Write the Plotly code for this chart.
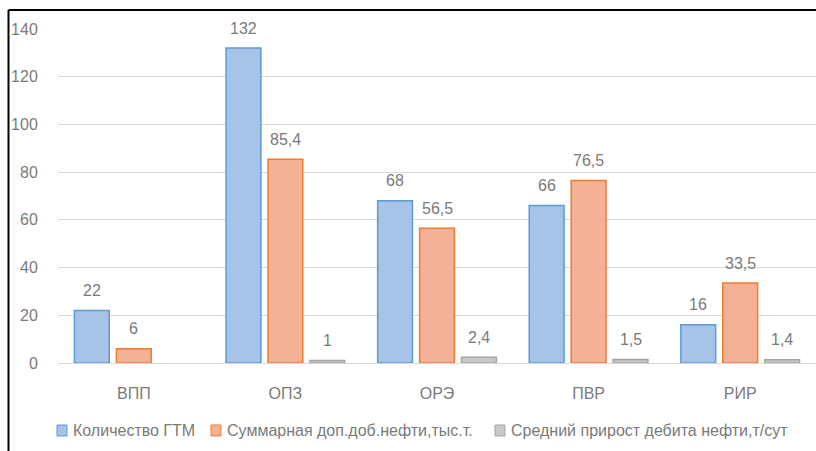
import plotly.graph_objects as go

categories = ["ВПП", "ОПЗ", "ОРЭ", "ПВР", "РИР"]
series_names = ["Количество ГТМ", "Суммарная доп.доб.нефти,тыс.т.", "Средний прирост дебита нефти,т/сут"]
gtm_count = [22, 132, 68, 66, 16]
oil_sum = [6, 85.4, 56.5, 76.5, 33.5]
rate_gain = [None, 1, 2.4, 1.5, 1.4]
gtm_labels = ["22", "132", "68", "66", "16"]
oil_labels = ["6", "85,4", "56,5", "76,5", "33,5"]
rate_labels = ["", "1", "2,4", "1,5", "1,4"]
y_ticks = [0, 20, 40, 60, 80, 100, 120, 140]

fills = ["#a7c3e7", "#f5b196", "#c9c9c9"]
lines = ["#5b9bd5", "#ed7d31", "#a5a5a5"]
txt = "#7a7a7a"
font_family = "Liberation Sans"

W, H = 816, 451
ML, MR, MT, MB = 58, 0, 29, 88
PW, PH = W - ML - MR, H - MT - MB


def px_x(px):
    return (px - ML) / PW


def px_y(py):
    return (H - MB - py) / PH


fig = go.Figure()
all_vals = [gtm_count, oil_sum, rate_gain]
all_labels = [gtm_labels, oil_labels, rate_labels]
for i, (name, vals) in enumerate(zip(series_names, all_vals)):
    fig.add_trace(go.Bar(
        x=categories, y=vals, name=name, showlegend=False,
        marker=dict(color=fills[i], line=dict(color=lines[i], width=1.5)),
    ))

offsets = [-42, 0, 42]
for i, (vals, labs) in enumerate(zip(all_vals, all_labels)):
    for c, v, t in zip(categories, vals, labs):
        if v is None or t == "":
            continue
        fig.add_annotation(x=c, y=v, text=t, showarrow=False, xshift=offsets[i],
                           yshift=20, yanchor="middle",
                           font=dict(family=font_family, size=16, color=txt))

# legend (drawn as swatches + text, matching the reference's compact spacing)
swatch_left = [57, 211, 495]
text_left = [71, 225, 509]
legend_y = 430.5
for i, name in enumerate(series_names):
    fig.add_shape(type="rect", xref="paper", yref="paper",
                  x0=px_x(swatch_left[i]), x1=px_x(swatch_left[i] + 10),
                  y0=px_y(legend_y + 5.5), y1=px_y(legend_y - 5.5),
                  fillcolor=fills[i], line=dict(color=lines[i], width=1))
    fig.add_annotation(xref="paper", yref="paper", x=px_x(text_left[i]), y=px_y(legend_y),
                       text=name, showarrow=False, xanchor="left", yanchor="middle",
                       font=dict(family=font_family, size=16, color=txt))

fig.update_layout(
    width=W, height=H,
    paper_bgcolor="white", plot_bgcolor="white",
    margin=dict(l=ML, r=MR, t=MT, b=MB),
    barmode="group", bargap=0.17, bargroupgap=0.17,
    font=dict(family=font_family, size=16, color=txt),
    showlegend=False,
)
fig.update_yaxes(range=[0, 140], tickvals=y_ticks, showgrid=True, gridcolor="#d9d9d9",
                 gridwidth=1, zeroline=True, zerolinecolor="#d9d9d9", zerolinewidth=1,
                 ticks="outside", ticklen=16, tickcolor="rgba(0,0,0,0)",
                 tickfont=dict(size=16, color=txt))
fig.update_xaxes(showgrid=False, showline=False, ticks="outside", ticklen=16,
                 tickcolor="rgba(0,0,0,0)", tickfont=dict(size=16, color=txt))

# frame lines (top and left) as in the reference image
fig.add_shape(type="line", xref="paper", yref="paper", x0=px_x(8.5), x1=px_x(W + 2),
              y0=px_y(10), y1=px_y(10), line=dict(color="black", width=2))
fig.add_shape(type="line", xref="paper", yref="paper", x0=px_x(8.5), x1=px_x(8.5),
              y0=px_y(10), y1=px_y(H + 2), line=dict(color="black", width=2))

fig.write_html("out.html", config={"displayModeBar": False},
               post_script="document.body.style.margin='0';document.body.style.overflow='hidden';")
